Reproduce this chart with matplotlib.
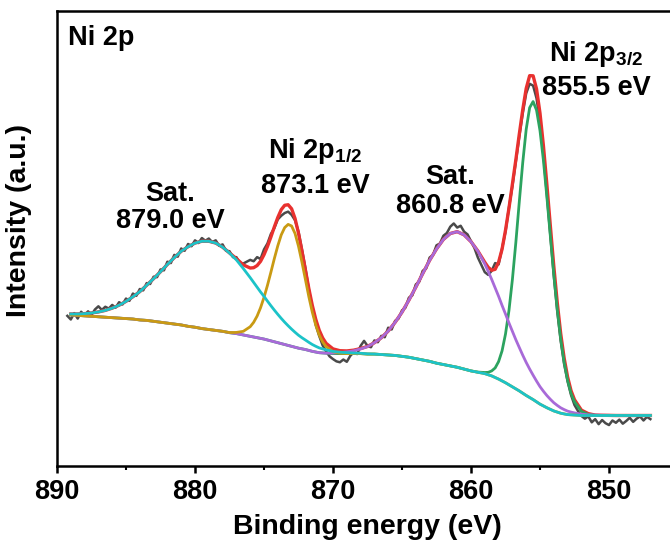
import matplotlib
matplotlib.use("Agg")
import matplotlib.pyplot as plt
from matplotlib.ticker import MultipleLocator, NullLocator
import numpy as np

plt.rcParams["font.family"] = ["Liberation Sans", "DejaVu Sans"]
plt.rcParams["font.weight"] = "bold"
plt.rcParams["mathtext.fontset"] = "custom"
plt.rcParams["mathtext.rm"] = "Liberation Sans:bold"
plt.rcParams["mathtext.it"] = "Liberation Sans:bold"
plt.rcParams["mathtext.bf"] = "Liberation Sans:bold"
plt.rcParams["mathtext.default"] = "rm"

# ---- raw spectrum (binding energy, intensity a.u.) ----
raw_energy = [
    889.25, 889.0, 888.75, 888.5, 888.25, 888.0, 887.75, 887.5,
    887.25, 887.0, 886.75, 886.5, 886.25, 886.0, 885.75, 885.5,
    885.25, 885.0, 884.75, 884.5, 884.25, 884.0, 883.75, 883.5,
    883.25, 883.0, 882.75, 882.5, 882.25, 882.0, 881.75, 881.5,
    881.25, 881.0, 880.75, 880.5, 880.25, 880.0, 879.75, 879.5,
    879.25, 879.0, 878.75, 878.5, 878.25, 878.0, 877.75, 877.5,
    877.25, 877.0, 876.75, 876.5, 876.25, 876.0, 875.75, 875.5,
    875.25, 875.0, 874.75, 874.5, 874.25, 874.0, 873.75, 873.5,
    873.25, 873.0, 872.75, 872.5, 872.25, 872.0, 871.75, 871.5,
    871.25, 871.0, 870.75, 870.5, 870.25, 870.0, 869.75, 869.5,
    869.25, 869.0, 868.75, 868.5, 868.25, 868.0, 867.75, 867.5,
    867.25, 867.0, 866.75, 866.5, 866.25, 866.0, 865.75, 865.5,
    865.25, 865.0, 864.75, 864.5, 864.25, 864.0, 863.75, 863.5,
    863.25, 863.0, 862.75, 862.5, 862.25, 862.0, 861.75, 861.5,
    861.25, 861.0, 860.75, 860.5, 860.25, 860.0, 859.75, 859.5,
    859.25, 859.0, 858.75, 858.5, 858.25, 858.0, 857.75, 857.5,
    857.25, 857.0, 856.75, 856.5, 856.25, 856.0, 855.75, 855.5,
    855.25, 855.0, 854.75, 854.5, 854.25, 854.0, 853.75, 853.5,
    853.25, 853.0, 852.75, 852.5, 852.25, 852.0, 851.75, 851.5,
    851.25, 851.0, 850.75, 850.5, 850.25, 850.0, 849.75, 849.5,
    849.25, 849.0, 848.75, 848.5, 848.25, 848.0, 847.75, 847.5,
    847.25, 847.0,
]
raw_counts = [
    33.0, 32.2, 33.6, 32.4, 33.9, 33.1, 34.0, 33.2,
    34.4, 35.1, 34.3, 35.0, 34.6, 35.4, 34.8, 36.0,
    35.5, 36.8, 36.3, 37.9, 37.4, 38.9, 38.6, 40.2,
    40.0, 41.6, 41.5, 43.2, 43.0, 44.9, 44.6, 46.4,
    46.0, 47.8, 47.3, 48.8, 48.3, 49.6, 49.0, 50.1,
    49.5, 50.0, 49.2, 49.6, 48.4, 48.7, 47.3, 47.2,
    45.9, 45.9, 44.6, 44.5, 44.9, 45.3, 45.0, 45.9,
    45.5, 47.6, 48.9, 51.0, 52.3, 54.2, 55.0, 55.6,
    55.9, 55.2, 54.0, 51.5, 47.6, 43.5, 38.8, 34.6,
    31.0, 28.6, 26.5, 25.2, 24.1, 23.5, 23.0, 22.8,
    23.4, 22.9, 24.2, 25.0, 24.6, 26.4, 27.5, 26.4,
    26.1, 27.6, 27.2, 28.6, 28.3, 30.4, 30.0, 31.9,
    32.4, 34.2, 34.8, 37.0, 37.5, 39.9, 40.5, 42.9,
    43.4, 45.8, 46.4, 48.5, 48.9, 50.6, 51.2, 52.6,
    53.3, 52.4, 52.8, 51.5, 50.9, 49.4, 47.9, 45.8,
    44.2, 42.6, 42.0, 42.9, 44.6, 44.3, 47.8, 51.5,
    56.8, 61.5, 67.0, 72.4, 77.5, 81.9, 84.0, 83.6,
    80.8, 75.6, 68.4, 59.6, 50.7, 41.8, 34.0, 27.5,
    22.4, 18.6, 15.6, 13.4, 12.1, 11.0, 10.4, 10.9,
    9.6, 10.3, 9.2, 10.1, 9.4, 9.0, 10.0, 9.5,
    10.2, 9.3, 9.9, 10.6, 9.7, 10.4, 10.9, 10.0,
    10.8, 10.3,
]

# ---- peak fit (sampled on fit_energy) ----
fit_energy = [
    889.0, 888.5, 888.0, 887.5, 887.0, 886.5, 886.0, 885.5, 885.0, 884.5,
    884.0, 883.5, 883.0, 882.5, 882.0, 881.5, 881.0, 880.5, 880.0, 879.5,
    879.0, 878.5, 878.0, 877.5, 877.0, 876.5, 876.0,
    875.75, 875.5, 875.25, 875.0, 874.75, 874.5, 874.25, 874.0, 873.75, 873.5,
    873.25, 873.0, 872.75, 872.5, 872.25, 872.0, 871.75, 871.5, 871.25, 871.0,
    870.75, 870.5,
    870.0, 869.5, 869.0, 868.5, 868.0, 867.5, 867.0, 866.5, 866.0, 865.5,
    865.0, 864.5, 864.0, 863.5, 863.0, 862.5, 862.0, 861.5, 861.0, 860.5,
    860.0, 859.5, 859.0,
    858.75, 858.5, 858.25, 858.0, 857.75, 857.5, 857.25, 857.0, 856.75, 856.5,
    856.25, 856.0, 855.75, 855.5, 855.25, 855.0, 854.75, 854.5, 854.25, 854.0,
    853.75, 853.5, 853.25, 853.0, 852.75, 852.5,
    852.0, 851.5, 851.0, 850.5, 850.0, 849.5, 849.0, 848.5, 848.0, 847.5, 847.0,
]
background = [
    33.2, 33.1, 33.0, 32.9, 32.8, 32.7, 32.6, 32.5, 32.4, 32.3,
    32.1, 32.0, 31.8, 31.6, 31.4, 31.2, 31.0, 30.7, 30.5, 30.2,
    30.0, 29.8, 29.6, 29.3, 29.1, 28.8, 28.5,
    28.35, 28.2, 28.05, 27.9, 27.7, 27.5, 27.3, 27.1, 26.9, 26.7,
    26.5, 26.3, 26.1, 25.9, 25.75, 25.6, 25.4, 25.2, 25.05, 24.9,
    24.85, 24.8,
    24.7, 24.7, 24.7, 24.7, 24.7, 24.6, 24.6, 24.5, 24.4, 24.3,
    24.1, 23.9, 23.6, 23.3, 23.0, 22.6, 22.3, 22.0, 21.7, 21.3,
    20.9, 20.6, 20.3,
    20.05, 19.8, 19.45, 19.1, 18.7, 18.3, 17.85, 17.4, 16.95, 16.5,
    16.0, 15.5, 15.05, 14.6, 14.1, 13.6, 13.2, 12.8, 12.45, 12.1,
    11.85, 11.6, 11.45, 11.3, 11.25, 11.2,
    11.1, 11.1, 11.1, 11.1, 11.1, 11.1, 11.1, 11.1, 11.1, 11.1, 11.1,
]
envelope = [
    33.41, 33.42, 33.49, 33.63, 33.86, 34.2, 34.69, 35.34, 36.18, 37.2,
    38.33, 39.73, 41.18, 42.7, 44.3, 45.8, 47.2, 48.2, 49.0, 49.4,
    49.4, 49.0, 48.1, 46.83, 45.56, 44.2, 43.51,
    43.58, 44.05, 44.98, 46.44, 48.24, 50.33, 52.56, 54.63, 56.34, 57.3,
    57.42, 56.53, 54.39, 51.14, 47.24, 43.09, 38.98, 35.3, 32.24, 29.85,
    28.15, 26.96,
    25.74, 25.34, 25.29, 25.46, 25.81, 26.28, 27.09, 28.18, 29.66, 31.57,
    33.81, 36.46, 39.3, 42.28, 45.2, 47.7, 49.8, 51.1, 51.5, 50.8,
    49.3, 47.24, 44.77,
    43.66, 43.02, 43.23, 44.8, 47.64, 51.82, 56.64, 61.95, 67.32, 72.95,
    78.32, 82.98, 85.79, 85.76, 82.86, 77.54, 70.32, 61.78, 52.76, 43.91,
    35.92, 29.09, 23.7, 19.56, 16.55, 14.57,
    12.28, 11.51, 11.19, 11.15, 11.13, 11.1, 11.1, 11.1, 11.1, 11.1, 11.1,
]
# component heights above the background
sat_879 = [
    0.21, 0.32, 0.49, 0.73, 1.06, 1.5, 2.09, 2.84, 3.78, 4.9,
    6.23, 7.73, 9.38, 11.1, 12.9, 14.6, 16.2, 17.5, 18.5, 19.2,
    19.4, 19.2, 18.5, 17.5, 16.2, 14.6, 12.9,
    12.0, 11.1, 10.2, 9.38, 8.54, 7.73, 6.96, 6.23, 5.54, 4.9,
    4.32, 3.78, 3.29, 2.84, 2.44, 2.09, 1.78, 1.5, 1.26, 1.06,
    0.88, 0.73,
    0.49, 0.32, 0.21, 0.13, 0.08, 0.05] + [0.0] * 17 + [0.0] * 26 + [0.0] * 11
p12_873 = [0.0] * 23 + [0.03, 0.26, 0.8, 2.11,
    3.23, 4.75, 6.73, 9.16, 12.0, 15.1, 18.3, 21.3, 23.9, 25.7,
    26.6, 26.45, 25.0, 22.4, 19.05, 15.4, 11.8, 8.6, 5.93, 3.89,
    2.42, 1.43,
    0.43, 0.1] + [0.0] * 21 + [0.0] * 26 + [0.0] * 11
sat_861 = [0.0] * 27 + [0.0] * 22 + [
    0.12, 0.22, 0.38, 0.63, 1.03, 1.63, 2.49, 3.68, 5.26, 7.27,
    9.71, 12.56, 15.7, 18.98, 22.2, 25.1, 27.5, 29.1, 29.8, 29.5,
    28.4, 26.6, 24.1,
    22.7, 21.2, 19.7, 18.2, 16.6, 15.1, 13.6, 12.2, 10.8, 9.54,
    8.35, 7.26, 6.26, 5.36, 4.56, 3.84, 3.22, 2.68, 2.21, 1.81,
    1.47, 1.19, 0.95, 0.76, 0.6, 0.47,
    0.28, 0.16, 0.09, 0.05, 0.03] + [0.0] * 6
p32_855 = [0.0] * 27 + [0.0] * 22 + [0.0] * 21 + [0.04, 0.25,
    0.54, 1.1, 2.1, 3.85, 6.6, 10.7, 16.3, 23.6, 32.2, 41.6,
    50.7, 58.5, 63.7, 65.5, 64.1, 60.1, 53.9, 46.3, 38.1, 30.0,
    22.6, 16.3, 11.3, 7.5, 4.7, 2.9,
    0.9, 0.25, 0.05] + [0.0] * 8

bg = np.array(background)

fig = plt.figure(figsize=(6.7, 5.44), dpi=100)
ax = fig.add_axes([57 / 670, 78 / 544, 613 / 670, 455 / 544])

ax.plot(raw_energy, raw_counts, color="#4a4a4a", lw=1.8)
ax.plot(fit_energy, envelope, color="#e8312f", lw=2.4)
ax.plot(fit_energy, bg + np.array(p32_855), color="#2ca35f", lw=2.0)
ax.plot(fit_energy, bg + np.array(sat_861), color="#a86ad8", lw=2.0)
ax.plot(fit_energy, bg + np.array(p12_873), color="#c99a13", lw=2.0)
ax.plot(fit_energy, bg + np.array(sat_879), color="#1cc3c8", lw=2.0)

ax.set_xlim(890, 890 - 613 / 13.8)
ax.set_ylim(0, 100)
ax.xaxis.set_major_locator(MultipleLocator(10))
ax.xaxis.set_minor_locator(MultipleLocator(5))
ax.yaxis.set_major_locator(NullLocator())
ax.tick_params(axis="x", which="major", direction="out", length=5, width=1.8,
               labelsize=19.5, pad=4.5)
ax.tick_params(axis="x", which="minor", direction="out", length=3, width=1.5)
for lab in ax.get_xticklabels():
    lab.set_fontweight("bold")
for side in ["left", "bottom", "top"]:
    ax.spines[side].set_linewidth(1.8)
ax.spines["right"].set_visible(False)

ax.set_xlabel("Binding energy (eV)", fontsize=20.5, fontweight="bold")
ax.xaxis.set_label_coords(0.506, -0.105)
ax.set_ylabel("Intensity (a.u.)", fontsize=20.5, fontweight="bold")
ax.yaxis.set_label_coords(-0.04, 0.54)

fs = 19.5
ax.text(889.2, 92.5, "Ni 2p", fontsize=fs, fontweight="bold", ha="left", va="baseline")
ax.text(881.8, 58.3, "Sat.", fontsize=fs, fontweight="bold", ha="center", va="baseline")
ax.text(881.8, 52.2, "879.0 eV", fontsize=fs, fontweight="bold", ha="center", va="baseline")
ax.text(871.3, 67.7, r"Ni 2p$_{1/2}$", fontsize=fs, fontweight="bold", ha="center", va="baseline")
ax.text(871.3, 59.9, "873.1 eV", fontsize=fs, fontweight="bold", ha="center", va="baseline")
ax.text(861.5, 62.0, "Sat.", fontsize=fs, fontweight="bold", ha="center", va="baseline")
ax.text(861.5, 55.5, "860.8 eV", fontsize=fs, fontweight="bold", ha="center", va="baseline")
ax.text(850.95, 89.1, r"Ni 2p$_{3/2}$", fontsize=fs, fontweight="bold", ha="center", va="baseline")
ax.text(850.95, 81.5, "855.5 eV", fontsize=fs, fontweight="bold", ha="center", va="baseline")

fig.savefig("out.png", dpi=100)
